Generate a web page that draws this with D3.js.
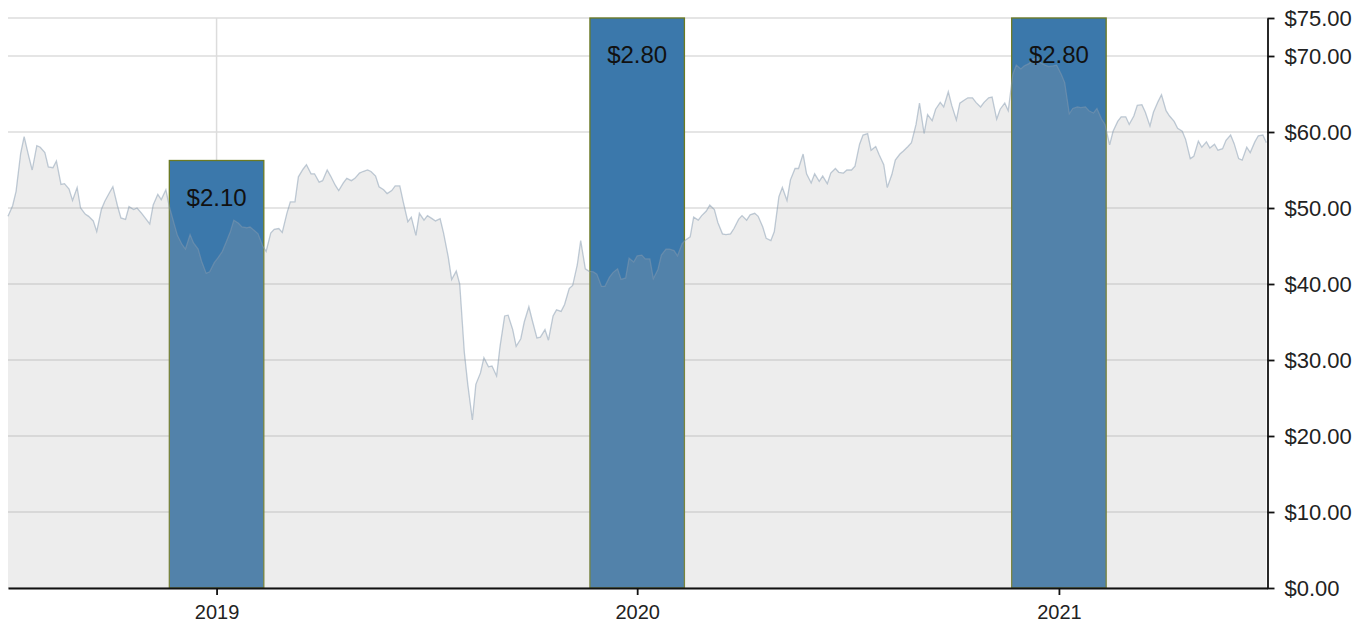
<!DOCTYPE html>
<html>
<head>
<meta charset="utf-8">
<script src="https://cdn.jsdelivr.net/npm/d3@7/dist/d3.min.js"></script>
<style>
  html, body { margin: 0; padding: 0; background: #fff; }
  svg { display: block; font-family: "Liberation Sans", Arial, sans-serif; }
</style>
</head>
<body>
<svg id="chart" width="1371" height="630"></svg>
<script>
// Share price, sampled twice a week starting 2018-07-04
const priceStart = "2018-07-04";
const prices = [
  48.9, 50.3, 52.2, 57.2, 59.4, 56.8, 55.0, 58.2, 58.0, 57.3,
  55.4, 55.3, 56.2, 53.1, 53.2, 52.5, 51.0, 52.7, 50.0, 49.2,
  48.9, 48.3, 46.9, 49.8, 50.9, 52.0, 52.8, 50.3, 48.7, 48.5,
  50.2, 49.8, 50.0, 49.3, 48.7, 47.9, 50.4, 51.8, 51.1, 52.4,
  50.2, 48.0, 46.4, 45.2, 44.6, 46.5, 45.4, 44.6, 43.0, 41.4,
  41.6, 42.8, 43.4, 44.3, 45.4, 46.9, 48.4, 48.0, 47.5, 47.4,
  47.5, 47.0, 46.6, 45.0, 44.3, 46.7, 47.2, 47.3, 46.8, 49.3,
  50.8, 50.8, 54.1, 55.1, 55.7, 54.5, 54.5, 53.4, 53.6, 55.0,
  54.2, 53.0, 52.3, 53.3, 53.9, 53.6, 53.9, 54.6, 54.8, 55.0,
  54.8, 54.2, 52.8, 52.4, 51.9, 52.3, 52.9, 52.9, 50.8, 48.2,
  48.8, 46.4, 49.3, 48.4, 49.0, 48.6, 48.3, 48.6, 46.7, 43.6,
  40.6, 41.7, 40.0, 31.0, 26.8, 22.1, 26.8, 28.3, 30.3, 29.1,
  29.2, 27.9, 31.8, 35.8, 35.9, 34.0, 31.8, 32.8, 35.0, 37.0,
  35.2, 32.9, 33.0, 34.0, 32.6, 35.8, 36.6, 36.4, 37.3, 39.4,
  39.8, 42.5, 45.7, 42.0, 41.7, 41.6, 41.3, 39.7, 39.7, 40.9,
  41.5, 42.0, 40.6, 40.8, 43.4, 42.9, 43.7, 43.8, 43.3, 43.3,
  40.7, 41.9, 43.8, 44.6, 44.6, 44.4, 43.7, 45.3, 45.8, 46.2,
  48.8, 48.4, 49.0, 49.6, 50.4, 49.8, 48.1, 46.6, 46.5, 46.6,
  47.3, 48.5, 49.0, 48.4, 49.1, 49.3, 48.9, 47.5, 46.0, 45.7,
  46.9, 51.5, 52.7, 51.0, 53.7, 55.2, 55.2, 57.1, 54.5, 53.3,
  54.5, 53.5, 54.2, 53.2, 54.6, 55.2, 54.7, 54.6, 55.0, 55.0,
  55.5, 58.4, 59.6, 59.8, 57.6, 58.1, 57.0, 55.7, 52.7, 54.4,
  56.3, 57.1, 57.5, 58.1, 58.6, 61.0, 63.8, 59.8, 62.3, 61.5,
  63.0, 63.9, 63.3, 65.3, 63.5, 61.6, 63.8, 64.2, 64.5, 64.5,
  63.9, 63.3, 63.9, 64.5, 64.6, 61.7, 63.0, 63.8, 62.8, 67.6,
  68.8, 68.3, 68.7, 69.0, 69.5, 69.8, 69.1, 68.8, 68.6, 68.7,
  68.8, 67.6, 66.5, 62.4, 63.1, 63.3, 63.2, 63.3, 62.8, 62.5,
  63.1, 61.7, 61.0, 58.3, 60.1, 61.4, 62.0, 62.0, 61.0, 62.1,
  63.5, 63.6, 62.6, 60.8, 62.6, 64.0, 64.9, 62.8, 62.1, 61.4,
  60.5, 60.1, 59.0, 56.5, 56.8, 58.8, 58.0, 58.7, 57.9, 58.4,
  57.6, 57.8, 58.9, 59.6, 58.5, 56.5, 56.3, 58.0, 57.3, 58.7,
  59.5, 59.6, 58.6
];

// Annual dividends
const dividendDates = ["2019-01-01", "2020-01-01", "2021-01-01"];
const dividends = [2.10, 2.80, 2.80];

// Axis ticks
const yearTicks = ["2019-01-01", "2020-01-01", "2021-01-01"];
const priceTicks = [0, 10, 20, 30, 40, 50, 60, 70, 75];
const xDomain = ["2018-07-04", "2021-07-01"];

const parse = d3.utcParse("%Y-%m-%d");
const money = d3.format("$.2f");

const svg = d3.select("#chart");
const plotLeft = 8, plotRight = 1267.5, plotTop = 18, plotBottom = 588;

const x = d3.scaleUtc().domain(xDomain.map(parse)).range([plotLeft, plotRight]);
const y = d3.scaleLinear().domain([0, 75]).range([plotBottom, plotTop]);
const yDiv = d3.scaleLinear().domain([0, d3.max(dividends)]).range([plotBottom, plotTop]);

const start = parse(priceStart);
const series = prices.map((v, i) => ({ date: d3.utcDay.offset(start, Math.round(i * 3.5)), value: v }));
const bars = dividends.map((v, i) => ({ date: parse(dividendDates[i]), value: v }));
const halfSpan = 41; // days either side of the payout date

// Grid
const grid = svg.append("g").attr("class", "grid");
grid.selectAll("line.h").data(priceTicks).join("line")
  .attr("class", "h")
  .attr("x1", plotLeft).attr("x2", plotRight)
  .attr("y1", d => y(d)).attr("y2", d => y(d))
  .attr("stroke", "#dcdcdc").attr("stroke-width", 1.5);
grid.selectAll("line.v").data(yearTicks.map(parse)).join("line")
  .attr("class", "v")
  .attr("x1", d => x(d)).attr("x2", d => x(d))
  .attr("y1", plotTop).attr("y2", plotBottom)
  .attr("stroke", "#dcdcdc").attr("stroke-width", 1.5);

// Dividend bars
svg.append("g").selectAll("rect").data(bars).join("rect")
  .attr("x", d => x(d3.utcDay.offset(d.date, -halfSpan)))
  .attr("width", d => x(d3.utcDay.offset(d.date, halfSpan)) - x(d3.utcDay.offset(d.date, -halfSpan)))
  .attr("y", d => yDiv(d.value))
  .attr("height", d => plotBottom - yDiv(d.value))
  .attr("fill", "#3b78ab")
  .attr("stroke", "#6c7a22")
  .attr("stroke-width", 1.3);

// Price area and line
const area = d3.area().x(d => x(d.date)).y0(y(0)).y1(d => y(d.value));
const line = d3.line().x(d => x(d.date)).y(d => y(d.value));

svg.append("path").datum(series)
  .attr("d", area)
  .attr("fill", "#a8a8a8")
  .attr("fill-opacity", 0.21);

svg.append("path").datum(series)
  .attr("d", line)
  .attr("fill", "none")
  .attr("stroke", "#8499b0")
  .attr("stroke-opacity", 0.5)
  .attr("stroke-width", 1.3);

// Dividend labels
svg.append("g").selectAll("text").data(bars).join("text")
  .attr("x", d => x(d.date))
  .attr("y", d => yDiv(d.value) + 45)
  .attr("text-anchor", "middle")
  .attr("font-size", 24)
  .attr("fill", "#111")
  .text(d => money(d.value));

// Axes
const yAxis = svg.append("g")
  .attr("transform", `translate(${plotRight},0)`)
  .call(d3.axisRight(y).tickValues(priceTicks).tickFormat(money).tickSize(7).tickPadding(10).tickSizeOuter(0));
yAxis.selectAll("text").attr("font-size", 22).attr("fill", "#222").attr("font-family", "Liberation Sans, Arial, sans-serif");
yAxis.selectAll("line, path").attr("stroke", "#111").attr("stroke-width", 1.8);

const xAxis = svg.append("g")
  .attr("transform", `translate(0,${plotBottom})`)
  .call(d3.axisBottom(x).tickValues(yearTicks.map(parse)).tickFormat(d3.utcFormat("%Y")).tickSize(7).tickPadding(10).tickSizeOuter(0));
xAxis.selectAll("text").attr("font-size", 20).attr("fill", "#222").attr("font-family", "Liberation Sans, Arial, sans-serif");
xAxis.selectAll("line, path").attr("stroke", "#111").attr("stroke-width", 1.8);
</script>
</body>
</html>
